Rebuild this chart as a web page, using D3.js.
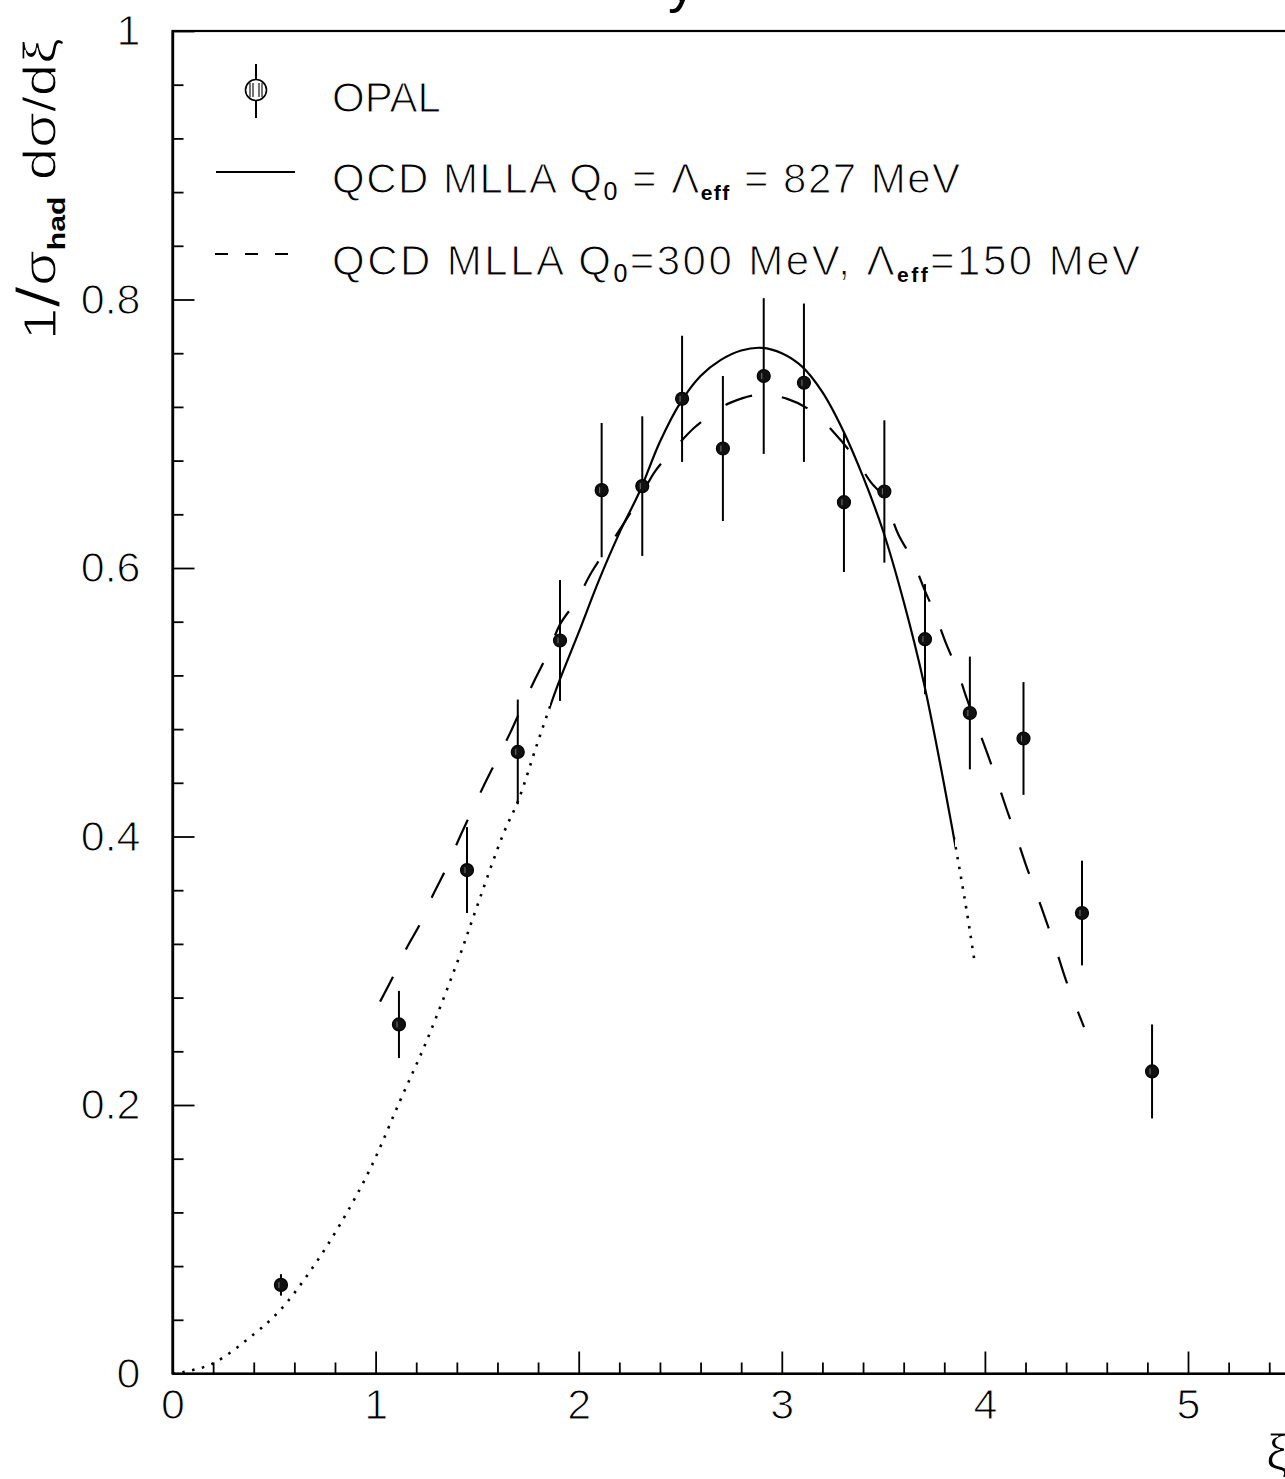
<!DOCTYPE html>
<html><head><meta charset="utf-8">
<script src="https://cdn.jsdelivr.net/npm/d3@7"></script>
<style>body{margin:0;background:#fff}svg{display:block}
.thin{stroke:#fff;stroke-width:1.1px;paint-order:fill stroke}
.sub{stroke:none}</style>
</head><body>
<svg id="c" width="1285" height="1479"></svg>
<script>
// ---- data ----
const xiBins   = [0.534,1.115,1.45,1.70,1.908,2.113,2.313,2.509,2.71,2.911,3.109,3.306,3.505,3.705,3.926,4.19,4.478,4.823];
const opalVals = [0.066,0.260,0.375,0.463,0.546,0.658,0.661,0.726,0.689,0.743,0.738,0.649,0.657,0.547,0.492,0.473,0.343,0.225];
const opalErrs = [0.008,0.025,0.032,0.039,0.045,0.050,0.052,0.047,0.054,0.058,0.059,0.052,0.053,0.041,0.042,0.042,0.039,0.035];

const mllaX = [0,0.05,0.2,0.406,0.529,0.677,0.825,0.972,1.12,1.252,1.416,1.481,1.629,1.703,1.8,1.9,2.0,2.1,2.2,2.3,2.4,2.5,2.6,2.7,2.8,2.9,3.0,3.1,3.2,3.3,3.4,3.5,3.6,3.7,3.8,3.9,3.948];
const mllaY = [0,0.001,0.0076,0.030,0.047,0.076,0.111,0.152,0.203,0.248,0.312,0.340,0.402,0.427,0.471,0.514,0.552,0.591,0.626,0.657,0.694,0.723,0.743,0.755,0.762,0.764,0.760,0.750,0.731,0.703,0.668,0.627,0.575,0.514,0.438,0.354,0.308];
const mllaFitRange = [1.859,3.853];

const mlla2X = [1.022,1.087,1.153,1.219,1.281,1.347,1.407,1.468,1.530,1.596,1.662,1.722,1.788,1.850,1.908,1.99,2.064,2.2,2.3,2.376,2.466,2.573,2.687,2.745,2.884,3.027,3.155,3.262,3.355,3.438,3.5,3.574,3.64,3.705,3.754,3.808,3.864,3.91,3.96,4.014,4.061,4.11,4.157,4.206,4.255,4.304,4.35,4.399,4.488];
const mlla2Y = [0.277,0.296,0.317,0.335,0.356,0.376,0.397,0.417,0.437,0.457,0.477,0.497,0.518,0.537,0.558,0.576,0.597,0.628,0.652,0.672,0.688,0.705,0.718,0.723,0.729,0.726,0.716,0.700,0.683,0.664,0.653,0.625,0.607,0.583,0.566,0.544,0.524,0.503,0.483,0.461,0.441,0.419,0.399,0.377,0.357,0.336,0.316,0.293,0.258];

const xMajorTicks = [0,1,2,3,4,5];
const yMajorTicks = [0,0.2,0.4,0.6,0.8,1];

// ---- drawing ----
const svg = d3.select("#c");
const FONT = "'Liberation Sans', Arial, Helvetica, sans-serif";
const x = d3.scaleLinear().domain([0,6]).range([172.5, 172.5+6*203.1]);
const y = d3.scaleLinear().domain([0,1]).range([1373.5, 31]);

const xMinor = d3.range(0, 6.001, 0.2).filter(v => Math.abs(v - Math.round(v)) > 1e-6);
const yMinor = d3.range(0, 1.001, 0.04).filter(v => Math.abs(v*5 - Math.round(v*5)) > 1e-6);

// frame
svg.append("rect").attr("x", x(0)).attr("y", y(1)).attr("width", x(6)-x(0)).attr("height", y(0)-y(1))
  .attr("fill","none").attr("stroke","#000").attr("stroke-width",2.2);

// x axis
const gx = svg.append("g").attr("transform",`translate(0,${y(0)})`);
gx.call(d3.axisBottom(x).tickValues(xMajorTicks).tickSizeInner(-22).tickSizeOuter(0).tickPadding(15).tickFormat(d3.format("d")));
gx.append("g").call(d3.axisBottom(x).tickValues(xMinor).tickSizeInner(-11).tickSizeOuter(0).tickFormat(""));
// y axis
const gy = svg.append("g").attr("transform",`translate(${x(0)},0)`);
gy.call(d3.axisLeft(y).tickValues(yMajorTicks).tickSizeInner(-22).tickSizeOuter(0).tickPadding(32)
  .tickFormat(d => (d===0||d===1) ? String(d) : d.toFixed(1)));
gy.append("g").call(d3.axisLeft(y).tickValues(yMinor).tickSizeInner(-11).tickSizeOuter(0).tickFormat(""));
svg.selectAll(".domain").attr("stroke","#000").attr("stroke-width",2.2);
svg.selectAll(".tick line").attr("stroke","#000").attr("stroke-width",1.8);
svg.selectAll(".tick text").attr("font-family",FONT).attr("font-size",43).attr("fill","#000").classed("thin",true);

// clip for fitted range
const defs = svg.append("defs");
defs.append("clipPath").attr("id","fitIn").append("rect")
  .attr("x", x(mllaFitRange[0])).attr("y",0).attr("width", x(mllaFitRange[1])-x(mllaFitRange[0])).attr("height",1479);
const cOut = defs.append("clipPath").attr("id","fitOut");
cOut.append("rect").attr("x",0).attr("y",0).attr("width",x(mllaFitRange[0])).attr("height",1479);
cOut.append("rect").attr("x",x(mllaFitRange[1])).attr("y",0).attr("width",1285).attr("height",1479);

const line = d3.line().x(d=>x(d[0])).y(d=>y(d[1])).curve(d3.curveCatmullRom.alpha(0.5));
const mlla = mllaX.map((v,i)=>[v,mllaY[i]]);
const mlla2 = mlla2X.map((v,i)=>[v,mlla2Y[i]]);

svg.append("path").attr("d", line(mlla)).attr("fill","none").attr("stroke","#000")
  .attr("stroke-width",2.2).attr("clip-path","url(#fitIn)");
svg.append("path").attr("d", line(mlla)).attr("fill","none").attr("stroke","#000")
  .attr("stroke-width",2.6).attr("stroke-dasharray","2.5,7.5").attr("clip-path","url(#fitOut)");
svg.append("path").attr("d", line(mlla2)).attr("fill","none").attr("stroke","#000")
  .attr("stroke-width",2.2).attr("stroke-dasharray","28,30");

// data points
const pts = svg.append("g");
xiBins.forEach((xv,i)=>{
  pts.append("line").attr("x1",x(xv)).attr("x2",x(xv))
    .attr("y1",y(opalVals[i]+opalErrs[i])).attr("y2",y(opalVals[i]-opalErrs[i]))
    .attr("stroke","#000").attr("stroke-width",2);
  pts.append("circle").attr("cx",x(xv)).attr("cy",y(opalVals[i])).attr("r",6.5)
    .attr("fill","#111").attr("stroke","#000").attr("stroke-width",1.2);
  pts.append("line").attr("x1",x(xv)-2).attr("x2",x(xv)-2).attr("y1",y(opalVals[i])-3).attr("y2",y(opalVals[i])+3)
    .attr("stroke","#777").attr("stroke-width",1);
});

// legend
const lg = svg.append("g").attr("font-family",FONT).attr("font-size",42).attr("fill","#000");
lg.append("line").attr("x1",256).attr("x2",256).attr("y1",64).attr("y2",118).attr("stroke","#000").attr("stroke-width",2);
lg.append("circle").attr("cx",256).attr("cy",90).attr("r",10.5).attr("fill","#fff").attr("stroke","#000").attr("stroke-width",1.6);
[-6,-3,3,6].forEach(o=>lg.append("line").attr("x1",256+o).attr("x2",256+o).attr("y1",83).attr("y2",97).attr("stroke","#000").attr("stroke-width",1.1));
lg.append("line").attr("x1",216).attr("x2",295).attr("y1",172).attr("y2",172).attr("stroke","#000").attr("stroke-width",2.2);
lg.append("line").attr("x1",215).attr("x2",290).attr("y1",254).attr("y2",254).attr("stroke","#000").attr("stroke-width",2.2).attr("stroke-dasharray","13,17");

lg.append("text").attr("x",332).attr("y",112).attr("class","thin").text("OPAL");

function legendLine(yy, len, parts){
  const t = lg.append("text").attr("x",332).attr("y",yy).attr("class","thin")
    .attr("textLength",len).attr("lengthAdjust","spacing");
  parts.forEach(p=>{
    const s = t.append("tspan").attr("dy",p.dy||0).text(p.t);
    if(p.fs) s.attr("font-size",p.fs).attr("class","sub");
    if(p.bold) s.attr("font-weight","bold");
  });
}
legendLine(193, 628, [
  {t:"QCD MLLA Q"},{t:"0",dy:7,fs:25},{t:" = Λ",dy:-7},{t:"eff",dy:7,fs:21,bold:true},{t:" = 827 MeV",dy:-7}
]);
legendLine(275, 808, [
  {t:"QCD MLLA Q"},{t:"0",dy:7,fs:25},{t:"=300 MeV, Λ",dy:-7},{t:"eff",dy:7,fs:21,bold:true},{t:"=150 MeV",dy:-7}
]);

// y-axis title (rotated)
const yt = svg.append("text").attr("font-family",FONT).attr("font-size",46).attr("fill","#000")
  .attr("class","thin").attr("text-anchor","end")
  .attr("textLength",302).attr("lengthAdjust","spacingAndGlyphs")
  .attr("transform","translate(56,38) rotate(-90)");
yt.append("tspan").text("1");
yt.append("tspan").attr("font-size",62).attr("dy",3).text("/");
yt.append("tspan").attr("dy",-3).text("σ");
yt.append("tspan").attr("font-size",24).attr("font-weight","bold").attr("class","sub").attr("dy",9).text("had");
yt.append("tspan").attr("dy",-9).text(" dσ/dξ");

// x-axis title
svg.append("text").attr("font-family",FONT).attr("font-size",50).attr("x",1266).attr("y",1469).attr("class","thin").text("ξ");
// cut-off title fragment at top
svg.append("text").attr("font-family",FONT).attr("font-size",56).attr("x",668).attr("y",1).text("y");
</script>
</body></html>
